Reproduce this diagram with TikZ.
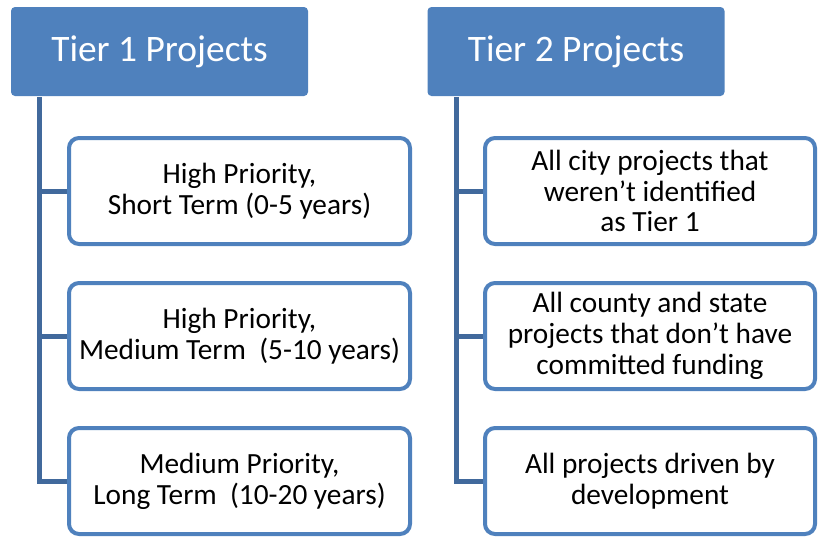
\documentclass[tikz,border=0pt]{standalone}
\usepackage{fontspec}
\setmainfont{Carlito}
\definecolor{tierblue}{HTML}{4F81BD}
\definecolor{trunkblue}{HTML}{41699C}
\begin{document}
\begin{tikzpicture}[x=1pt,y=-1pt,
    tier/.style={fill=tierblue,rounded corners=4pt,minimum width=297pt,minimum height=89pt,
        text=white,font=\fontsize{37.4}{42}\selectfont},
    item/.style={draw=tierblue,line width=4pt,fill=white,rounded corners=10pt,align=center,
        inner sep=0pt,minimum height=106pt,font=\fontsize{29.3}{30.8}\selectfont},
    link/.style={draw=trunkblue,line width=5pt}]
\useasboundingbox (0,0) rectangle (824,536);
% headers
\node[tier] (t1) at (159.5,51.5) {Tier 1 Projects};
\node[tier] (t2) at (576,51.5) {Tier 2 Projects};
% tier 1 items
\node[item,minimum width=341pt] (a1) at (239.5,191) {High Priority,\\Short Term (0-5 years)};
\node[item,minimum width=341pt] (a2) at (239.5,336) {High Priority,\\Medium Term\ \ (5-10 years)};
\node[item,minimum width=341pt] (a3) at (239.5,481) {Medium Priority,\\Long Term\ \ (10-20 years)};
% tier 2 items
\node[item,minimum width=330pt] (b1) at (650,191) {All city projects that\\weren’t identified\\as Tier 1};
\node[item,minimum width=330pt] (b2) at (650,336) {All county and state\\projects that don’t have\\committed funding};
\node[item,minimum width=330pt] (b3) at (650,481) {All projects driven by\\development};
% connectors
\coordinate (k1) at (39,97);
\coordinate (k2) at (456,97);
\draw[link] (k1) |- (a3.west);
\draw[link] (k1 |- a1.west) -- (a1.west);
\draw[link] (k1 |- a2.west) -- (a2.west);
\draw[link] (k2) |- (b3.west);
\draw[link] (k2 |- b1.west) -- (b1.west);
\draw[link] (k2 |- b2.west) -- (b2.west);
\end{tikzpicture}
\end{document}
